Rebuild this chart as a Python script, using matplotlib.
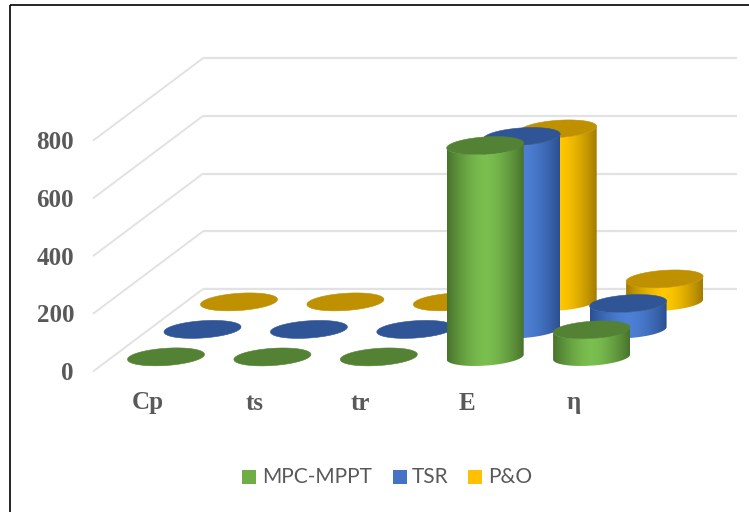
import numpy as np
import matplotlib
matplotlib.use("Agg")
import matplotlib.pyplot as plt
from matplotlib.patches import Polygon
from matplotlib.colors import to_rgb

categories = ["Cp", "ts", "tr", "E", "η"]
series_names = ["MPC-MPPT", "TSR", "P&O"]
mpc_mppt = [0.48, 0.2, 0.3, 733, 94]
tsr = [0.45, 0.3, 0.4, 669, 90]
p_and_o = [0.42, 0.4, 0.5, 600, 80]
y_ticks = [0, 200, 400, 600, 800]

series_values = [mpc_mppt, tsr, p_and_o]
edge_cols = ["#48722c", "#2b5090", "#a27a00"]
mid_cols = ["#7abf4f", "#4d80d6", "#ffc800"]
top_cols = ["#548235", "#2f5597", "#bf9000"]
legend_cols = ["#70ad47", "#4472c4", "#ffc000"]

GREY = "#595959"
fig = plt.figure(figsize=(7.49, 5.12), dpi=100)
ax = fig.add_axes([0, 0, 1, 1])
ax.axis("off")

# oblique projection of (category, series, value) on to the picture
X0, XSTEP, Y0, YUNIT, DX, DY = 166.0, 106.4, 357.0, 0.2885, 36.5, -27.5


def project(cat, ser, val):
    return X0 + XSTEP * cat + DX * ser, Y0 + DY * ser - YUNIT * val


# wall grid
for v in y_ticks:
    yb = 289 - YUNIT * v
    ax.plot([93, 203], [yb + 82.5, yb], color="#e2e2e2", lw=1.4, zorder=1, solid_capstyle="butt")
    ax.plot([203, 737], [yb, yb], color="#e2e2e2", lw=1.6, zorder=1, solid_capstyle="butt")
    ax.text(74, yb + 84.5, str(v), ha="right", va="center", fontsize=18,
            fontweight="bold", family="Liberation Serif", color=GREY)

A, B, SLOPE = 38.5, 8.6, 0.065


def arc(cy, u, sign):
    return cy - SLOPE * A * u + sign * B * np.sqrt(np.clip(1 - u ** 2, 0, 1))


th = np.linspace(np.pi, 0, 161)
uu = np.cos(th)
z = 2
for s in [2, 1, 0]:
    e, m = np.array(to_rgb(edge_cols[s])), np.array(to_rgb(mid_cols[s]))
    ug = np.linspace(-1, 1, 161)
    t = np.abs(ug)[:, None] ** 1.6
    grad = (m * (1 - t) + e * t)[None, :, :]
    for c, val in enumerate(series_values[s]):
        cx, ytop = project(c, s, val)
        _, ybase = project(c, s, 0)
        xs = cx + A * uu
        body = np.c_[np.r_[xs, xs[::-1]], np.r_[arc(ybase, uu, 1), arc(ytop, uu[::-1], 1)]]
        im = ax.imshow(grad, extent=(cx - A, cx + A, ybase + 2 * B, ytop - 2 * B), aspect="auto",
                       interpolation="bilinear", zorder=z)
        im.set_clip_path(Polygon(body, closed=True, transform=ax.transData))
        cap = np.c_[np.r_[xs, xs[::-1]], np.r_[arc(ytop, uu, 1), arc(ytop, uu[::-1], -1)]]
        ax.add_patch(Polygon(cap, closed=True, facecolor=top_cols[s], edgecolor=top_cols[s], lw=0.4, zorder=z + 0.5))
        z += 1

for c, name in enumerate(categories):
    ax.text(148 + XSTEP * c, 403, name, ha="center", va="center", fontsize=18,
            fontweight="bold", family="Liberation Serif", color=GREY)

# legend
for name, col, xs, xt in zip(series_names, legend_cols, [242, 393, 468], [262, 412, 488]):
    ax.fill([xs, xs + 14, xs + 14, xs], [470, 470, 484, 484], color=col, lw=0, zorder=50)
    ax.text(xt, 477, name, ha="left", va="center", fontsize=15, family="Lato", color=GREY)

# frame
ax.plot([9.5, 9.5], [512, 4.5], color="black", lw=1.2, zorder=60, solid_capstyle="butt")
ax.plot([9.5, 749], [4.5, 4.5], color="black", lw=1.2, zorder=60, solid_capstyle="butt")

ax.set_xlim(0, 749)
ax.set_ylim(512, 0)
fig.savefig("out.png", dpi=100)
